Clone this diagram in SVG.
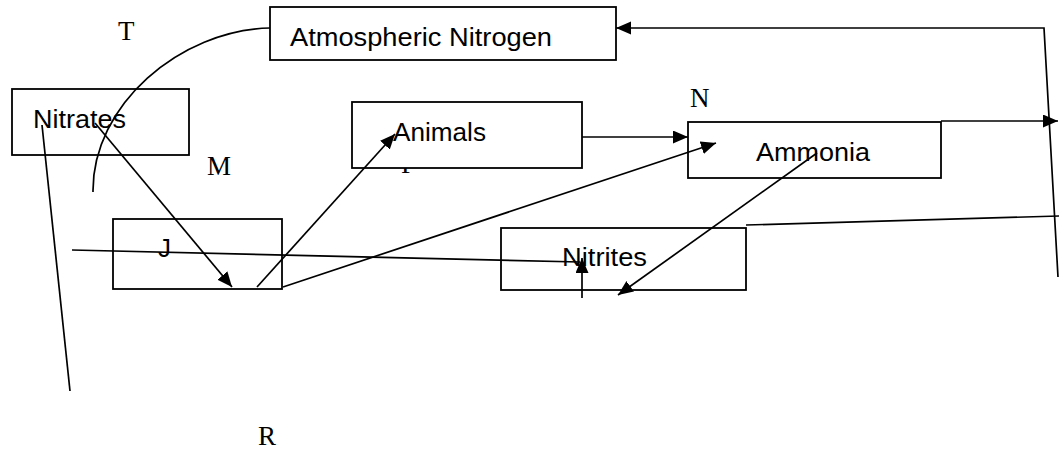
<svg xmlns="http://www.w3.org/2000/svg" width="1059" height="454" viewBox="0 0 1059 454">
  <style>
    .box { fill: #fff; stroke: #000; stroke-width: 1.8; }
    .name { font-family: "Liberation Sans", Arial, sans-serif; font-size: 26px; fill: #000; }
    .tag { font-family: "Liberation Serif", "Times New Roman", serif; font-size: 27px; fill: #000; }
    .wire { fill: none; stroke: #000; stroke-width: 1.7; }
    .arrow { marker-end: url(#head); }
  </style>
  <defs>
    <marker id="head" markerUnits="userSpaceOnUse" markerWidth="18" markerHeight="16" refX="15" refY="6.5" orient="auto">
      <path d="M0,0 L15,6.5 L0,13 Z" fill="#000"/>
    </marker>
  </defs>
  <rect width="1059" height="454" fill="#fff"/>

  <!-- letter labels -->
  <g id="labels">
    <text class="tag" x="118" y="40">T</text>
    <text class="tag" x="207" y="175">M</text>
    <text class="tag" x="401" y="173">P</text>
    <text class="tag" x="690" y="107">N</text>
    <text class="tag" x="258" y="445">R</text>
  </g>

  <g id="atmospheric-nitrogen">
    <rect class="box" x="270" y="7" width="346" height="53"/>
    <text class="name" x="290" y="46" textLength="262" lengthAdjust="spacingAndGlyphs">Atmospheric Nitrogen</text>
  </g>
  <g id="nitrates">
    <rect class="box" x="12" y="89" width="177" height="66"/>
    <text class="name" x="33" y="128" textLength="93" lengthAdjust="spacingAndGlyphs">Nitrates</text>
  </g>
  <g id="animals">
    <rect class="box" x="352" y="102" width="230" height="66"/>
    <text class="name" x="393" y="141" textLength="93" lengthAdjust="spacingAndGlyphs">Animals</text>
  </g>
  <g id="ammonia">
    <rect class="box" x="688" y="122" width="253" height="56"/>
    <text class="name" x="756" y="161" textLength="114" lengthAdjust="spacingAndGlyphs">Ammonia</text>
  </g>
  <g id="j">
    <rect class="box" x="113" y="219" width="169" height="70"/>
    <text class="name" x="158" y="257">J</text>
  </g>
  <g id="nitrites">
    <rect class="box" x="501" y="228" width="245" height="62"/>
    <text class="name" x="562" y="266" textLength="85" lengthAdjust="spacingAndGlyphs">Nitrites</text>
  </g>

  <g id="connectors">
    <!-- curve from Atmospheric Nitrogen sweeping down past Nitrates -->
    <path class="wire" d="M270,28 C180,30 92,105 93,192"/>
    <!-- right-hand return to Atmospheric Nitrogen -->
    <path class="wire arrow" d="M1058,277 L1044,28 L616,28"/>
    <!-- Ammonia top-right edge to the right border -->
    <path class="wire arrow" d="M941,121 L1058,121"/>
    <!-- Nitrites top-right edge to the right border -->
    <path class="wire" d="M746,225 L1059,216"/>
    <!-- Nitrates down to J -->
    <path class="wire arrow" d="M95,123 L232,287"/>
    <!-- Nitrates down-left to bottom -->
    <path class="wire" d="M42,125 L70,391"/>
    <!-- J to Animals -->
    <path class="wire arrow" d="M257,287 L395,134"/>
    <!-- J to Ammonia -->
    <path class="wire arrow" d="M283,287 L716,143"/>
    <!-- Animals to Ammonia -->
    <path class="wire arrow" d="M582,137 L688,137"/>
    <!-- Ammonia to Nitrites -->
    <path class="wire arrow" d="M817,153 L618,295"/>
    <!-- horizontal line across J into Nitrites -->
    <path class="wire" d="M72,250 L580,262"/>
    <!-- short upward arrow into Nitrites -->
    <path class="wire arrow" d="M582,298 L582,258"/>
  </g>
</svg>
